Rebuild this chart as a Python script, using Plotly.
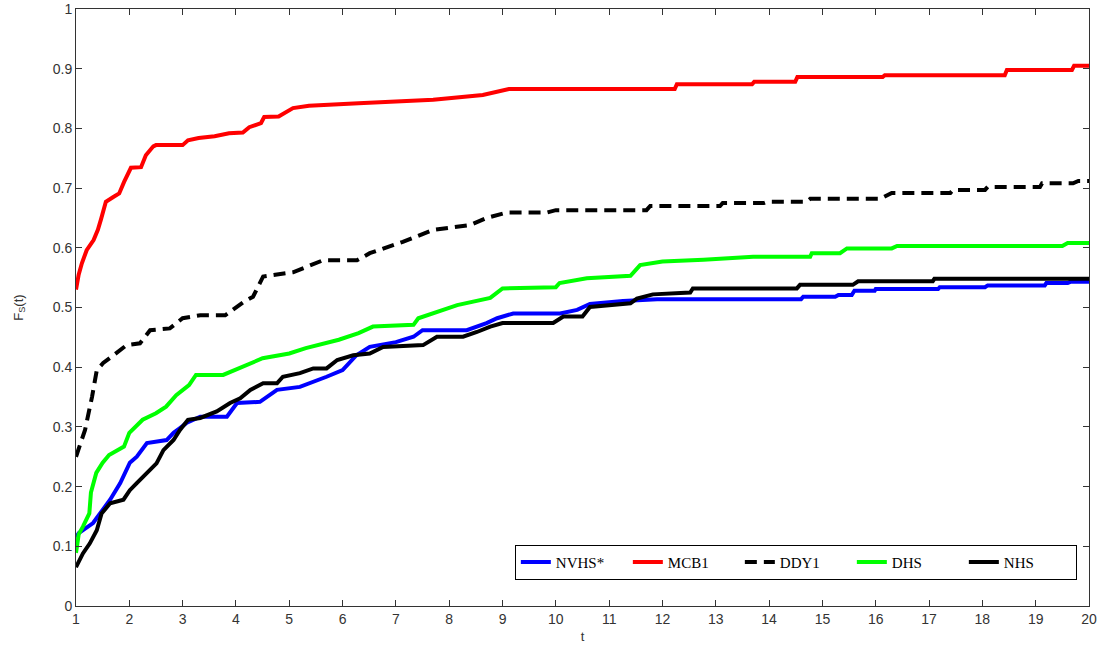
import plotly.graph_objects as go

# ---- data (t, F_S(t)) ----
nvhs_t = [1.0, 1.05, 1.32, 1.51, 1.64, 1.83, 2.01, 2.14, 2.33, 2.7, 2.83, 2.95, 3.08, 3.33, 3.83, 4.02, 4.45,
          4.77, 5.2, 5.7, 6.0, 6.26, 6.51, 7.0, 7.33, 7.5, 8.33, 8.7, 8.9, 9.2, 10.08, 10.4, 10.64, 11.26, 11.9,
          14.6, 14.64, 15.24, 15.3, 15.55, 15.6, 15.98, 16.0, 17.17, 17.2, 18.05, 18.1, 19.17, 19.2, 19.6, 19.65, 20.0]
nvhs_v = [0.115, 0.122, 0.139, 0.161, 0.178, 0.206, 0.24, 0.25, 0.273, 0.278, 0.29, 0.298, 0.307, 0.317, 0.317, 0.34, 0.342,
          0.362, 0.367, 0.384, 0.395, 0.42, 0.434, 0.442, 0.451, 0.462, 0.462, 0.474, 0.482, 0.49, 0.49, 0.496, 0.506, 0.511, 0.514,
          0.514, 0.518, 0.518, 0.521, 0.521, 0.528, 0.528, 0.531, 0.531, 0.534, 0.534, 0.537, 0.537, 0.541, 0.541, 0.543, 0.543]

mcb1_t = [1.0, 1.05, 1.11, 1.2, 1.33, 1.41, 1.47, 1.56, 1.7, 1.81, 1.9, 2.03, 2.22, 2.31, 2.45, 2.5, 3.0, 3.1, 3.3, 3.6,
          3.87, 4.13, 4.25, 4.47, 4.53, 4.8, 5.07, 5.37, 6.3, 7.7, 8.63, 9.12, 12.23, 12.27, 13.68, 13.72, 14.49, 14.53,
          16.13, 16.17, 18.42, 18.46, 19.68, 19.72, 20.0]
mcb1_v = [0.53, 0.555, 0.574, 0.596, 0.613, 0.63, 0.648, 0.677, 0.685, 0.691, 0.71, 0.734, 0.735, 0.755, 0.77, 0.772, 0.772, 0.78,
          0.784, 0.787, 0.792, 0.793, 0.802, 0.809, 0.819, 0.82, 0.834, 0.838, 0.842, 0.848, 0.856, 0.866, 0.866, 0.874, 0.874,
          0.878, 0.878, 0.886, 0.886, 0.889, 0.889, 0.898, 0.898, 0.905, 0.905]

ddy1_t = [1.0, 1.17, 1.3, 1.39, 1.51, 1.77, 1.95, 2.2, 2.39, 2.76, 3.0, 3.33, 3.8, 4.14, 4.32, 4.51, 5.07, 5.63, 6.27,
          6.51, 7.13, 7.7, 8.39, 8.7, 9.08, 9.83, 10.0, 11.7, 11.77, 13.08, 13.13, 13.9, 13.96, 14.7, 14.77, 16.08,
          16.3, 17.4, 17.45, 18.05, 18.1, 19.08, 19.12, 19.7, 19.8, 20.0]
ddy1_v = [0.25, 0.295, 0.35, 0.395, 0.407, 0.424, 0.437, 0.44, 0.462, 0.465, 0.482, 0.487, 0.487, 0.509, 0.518, 0.552, 0.559,
          0.579, 0.579, 0.591, 0.61, 0.63, 0.638, 0.65, 0.659, 0.659, 0.663, 0.663, 0.67, 0.67, 0.675, 0.675, 0.677, 0.677,
          0.682, 0.682, 0.692, 0.692, 0.697, 0.697, 0.702, 0.702, 0.708, 0.708, 0.712, 0.712]

dhs_t = [1.0, 1.05, 1.13, 1.25, 1.28, 1.38, 1.5, 1.62, 1.9, 2.0, 2.25, 2.5, 2.69, 2.88, 3.12, 3.25, 3.76, 4.13, 4.5,
         5.0, 5.31, 5.93, 6.3, 6.57, 7.33, 7.42, 7.77, 8.15, 8.77, 9.0, 10.0, 10.07, 10.58, 11.4, 11.58, 12.0, 12.77,
         13.2, 13.7, 14.77, 14.8, 15.33, 15.46, 16.3, 16.4, 19.5, 19.6, 20.0]
dhs_v = [0.089, 0.12, 0.133, 0.155, 0.19, 0.223, 0.24, 0.253, 0.267, 0.29, 0.312, 0.323, 0.334, 0.353, 0.37, 0.387, 0.387,
         0.401, 0.415, 0.423, 0.432, 0.446, 0.457, 0.468, 0.471, 0.482, 0.493, 0.504, 0.516, 0.532, 0.534, 0.541, 0.549,
         0.553, 0.571, 0.577, 0.58, 0.583, 0.585, 0.585, 0.591, 0.591, 0.599, 0.599, 0.603, 0.603, 0.608, 0.608]

nhs_t = [1.0, 1.13, 1.26, 1.39, 1.48, 1.64, 1.89, 2.01, 2.14, 2.33, 2.51, 2.64, 2.83, 2.95, 3.1, 3.33, 3.64, 3.89, 4.08,
         4.27, 4.51, 4.77, 4.88, 5.2, 5.45, 5.7, 5.9, 6.2, 6.51, 6.76, 7.51, 7.77, 8.26, 8.52, 8.77, 9.0, 9.95, 10.14,
         10.5, 10.64, 11.4, 11.52, 11.82, 12.52, 12.57, 14.52, 14.58, 15.57, 15.67, 17.07, 17.1, 20.0]
nhs_v = [0.065, 0.088, 0.105, 0.127, 0.155, 0.172, 0.178, 0.194, 0.206, 0.222, 0.239, 0.261, 0.278, 0.295, 0.312, 0.315,
         0.326, 0.34, 0.348, 0.362, 0.373, 0.373, 0.384, 0.39, 0.398, 0.398, 0.412, 0.42, 0.423, 0.434, 0.437, 0.451, 0.451,
         0.459, 0.468, 0.474, 0.474, 0.485, 0.485, 0.501, 0.507, 0.515, 0.522, 0.525, 0.532, 0.532, 0.538, 0.538, 0.544,
         0.544, 0.548, 0.548]

x_ticks = list(range(1, 21))
y_ticks = [0, 0.1, 0.2, 0.3, 0.4, 0.5, 0.6, 0.7, 0.8, 0.9, 1]
y_tick_text = ["0", "0.1", "0.2", "0.3", "0.4", "0.5", "0.6", "0.7", "0.8", "0.9", "1"]

series = [
    ("NVHS*", nvhs_t, nvhs_v, "#0000ff", "solid"),
    ("MCB1", mcb1_t, mcb1_v, "#ff0000", "solid"),
    ("DDY1", ddy1_t, ddy1_v, "#000000", "12px,7px"),
    ("DHS", dhs_t, dhs_v, "#00ff00", "solid"),
    ("NHS", nhs_t, nhs_v, "#000000", "solid"),
]

fig = go.Figure()
for name, t, v, col, dash in series:
    fig.add_trace(go.Scatter(x=t, y=v, mode="lines", name=name,
                             line=dict(color=col, width=4, dash=dash)))

SANS = "Liberation Sans"
axis_common = dict(showgrid=False, zeroline=False, showline=True, linecolor="#333333", linewidth=1,
                   mirror="ticks", ticks="inside", ticklen=6, tickcolor="#333333", automargin=False,
                   tickfont=dict(family=SANS, size=14, color="#333333"))

fig.update_xaxes(range=[1, 20], tickvals=x_ticks, ticktext=[str(x) for x in x_ticks],
                 title=dict(text="t", font=dict(family=SANS, size=13, color="#333333"), standoff=6),
                 **axis_common)
fig.update_yaxes(range=[0, 1], tickvals=y_ticks, ticktext=y_tick_text,
                 title=dict(text="F<sub>S</sub>(t)", font=dict(family=SANS, size=13, color="#333333"),
                            standoff=26),
                 **axis_common)

fig.update_layout(
    width=1099, height=648,
    margin=dict(l=76, r=10, t=9, b=42),
    paper_bgcolor="white", plot_bgcolor="white",
    showlegend=True,
    legend=dict(orientation="h", x=0.988, y=0.044, xanchor="right", yanchor="bottom",
                bgcolor="white", bordercolor="#000000", borderwidth=1,
                font=dict(family="Liberation Serif", size=15, color="#000000"),
                itemwidth=30, entrywidth=67, tracegroupgap=0),
)

fig.write_html("out.html", config={"displayModeBar": False},
               post_script="document.body.style.margin='0';")
